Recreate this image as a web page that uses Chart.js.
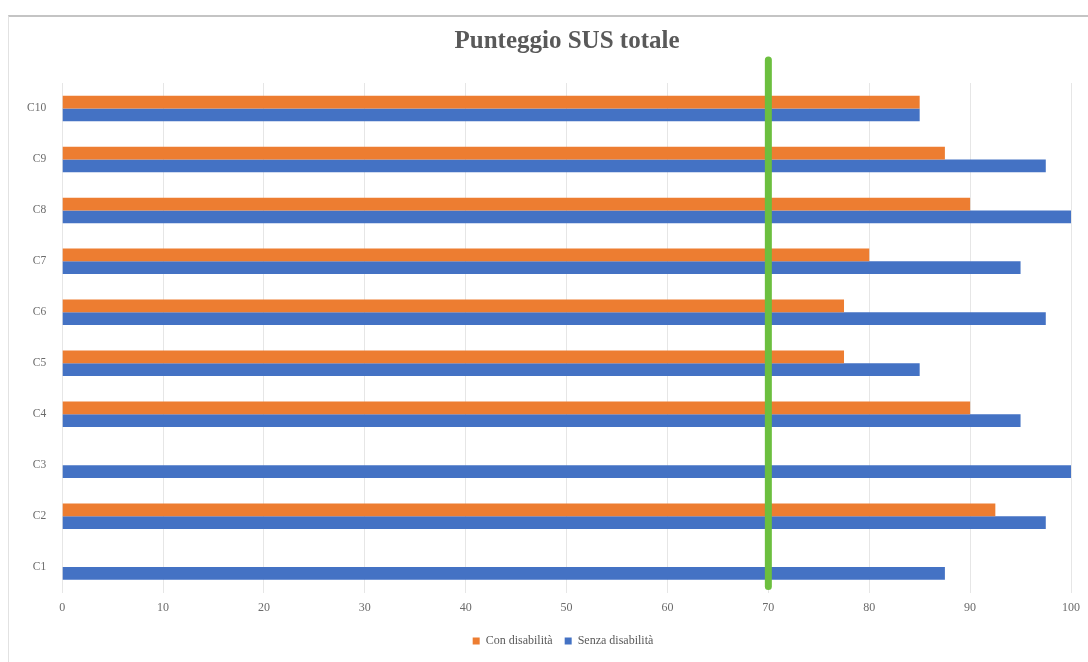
<!DOCTYPE html>
<html>
<head>
<meta charset="utf-8">
<script src="https://cdn.jsdelivr.net/npm/chart.js@4"></script>
<style>
  html, body { margin: 0; padding: 0; background: #fff; }
  #wrap { position: relative; width: 1088px; height: 662px; overflow: hidden; }
  #frame { position: absolute; left: 8px; top: 15px; width: 1100px; height: 700px;
           border-top: 2px solid #c4c4c4; border-left: 1px solid #e2e2e2; }
  canvas { position: absolute; left: 0; top: 0; }
</style>
</head>
<body>
<div id="wrap">
  <div id="frame"></div>
  <canvas id="c" width="1088" height="662"></canvas>
</div>
<script>
const categories = ['C1','C2','C3','C4','C5','C6','C7','C8','C9','C10'];
const conDisabilita   = [0, 92.5, 0, 90, 77.5, 77.5, 80, 90, 87.5, 85];
const senzaDisabilita = [87.5, 97.5, 100, 95, 85, 97.5, 95, 100, 97.5, 85];
const seriesNames = ['Con disabilità', 'Senza disabilità'];
const thresholdValue = [70];
const xTicks = [0,10,20,30,40,50,60,70,80,90,100];

const thresholdPlugin = {
  id: 'threshold',
  afterLayout(chart) {
    // centre title and legend over the framed chart box, as in the reference
    if (chart.titleBlock) { chart.titleBlock.left += 24; chart.titleBlock.right += 24; }
    if (chart.legend) { chart.legend.left += 20; chart.legend.right += 20; }
  },
  afterDatasetsDraw(chart) {
    const {ctx, chartArea, scales} = chart;
    const x = scales.x.getPixelForValue(thresholdValue[0]);
    ctx.save();
    ctx.strokeStyle = '#6cbf3f';
    ctx.lineWidth = 7;
    ctx.lineCap = 'round';
    ctx.beginPath();
    ctx.moveTo(x, chartArea.top - 23);
    ctx.lineTo(x, chartArea.bottom - 6);
    ctx.stroke();
    ctx.restore();
  }
};

const serif = '"Liberation Serif", "DejaVu Serif", serif';

new Chart(document.getElementById('c'), {
  type: 'bar',
  data: {
    labels: categories,
    datasets: [
      { label: seriesNames[0], data: conDisabilita, backgroundColor: '#ED7D31',
        barPercentage: 1, categoryPercentage: 0.5 },
      { label: seriesNames[1], data: senzaDisabilita, backgroundColor: '#4472C4',
        barPercentage: 1, categoryPercentage: 0.5 }
    ]
  },
  options: {
    indexAxis: 'y',
    responsive: false,
    animation: false,
    layout: { padding: { left: 11, right: 13, top: 0, bottom: 5 } },
    scales: {
      x: {
        min: 0, max: 100,
        afterBuildTicks(axis) { axis.ticks = xTicks.map(v => ({ value: v })); },
        grid: { color: '#e6e6e6', drawTicks: false },
        border: { display: false },
        ticks: { color: '#6b6b6b', padding: 8, font: { family: serif, size: 12 } }
      },
      y: {
        reverse: true,
        grid: { display: false, drawTicks: false },
        border: { display: false },
        ticks: { color: '#6b6b6b', padding: 16, font: { family: serif, size: 11.5 } }
      }
    },
    plugins: {
      title: {
        display: true,
        text: 'Punteggio SUS totale',
        color: '#595959',
        font: { family: serif, size: 25, weight: 'bold' },
        padding: { top: 27, bottom: 26 }
      },
      legend: {
        position: 'bottom',
        labels: {
          color: '#595959',
          font: { family: serif, size: 12 },
          boxWidth: 7, boxHeight: 7, padding: 12
        }
      },
      tooltip: { enabled: false }
    }
  },
  plugins: [thresholdPlugin]
});
</script>
</body>
</html>
